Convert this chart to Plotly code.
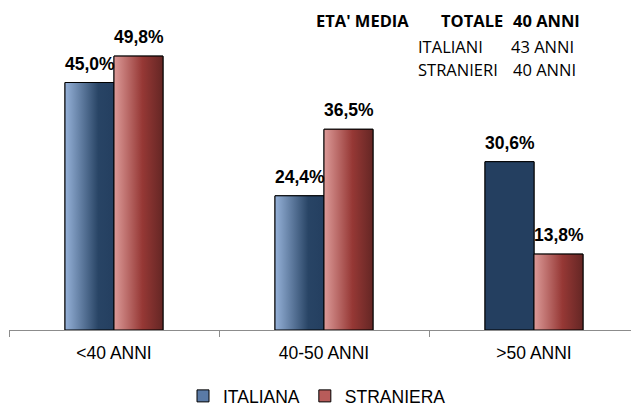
import plotly.graph_objects as go

# ---- data ----
categories = ["<40 ANNI", "40-50 ANNI", ">50 ANNI"]
italiana = [45.0, 24.4, 30.6]
straniera = [49.8, 36.5, 13.8]
series_names = ["ITALIANA", "STRANIERA"]
eta_media_totale = 40
eta_media_italiani = 43
eta_media_stranieri = 40

# ---- styles ----
BLUE_SCALE = [[0, "#95b1d8"], [0.68, "#284465"], [1, "#243f60"]]
BLUE_SOLID = [[0, "#243f60"], [1, "#243f60"]]
RED_SCALE = [[0, "#dc9a98"], [0.58, "#963835"], [1, "#642624"]]
blue_solid_flags = [False, False, True]
LABEL_FONT = "Liberation Sans, Arial, sans-serif"

BAR_W = 0.2333          # fraction of category width per bar
PLOT_L, PLOT_R, PLOT_T, PLOT_B = 9, 631, 0, 330
CAT_PX = 210.0
x_max = -0.5 + (PLOT_R - PLOT_L) / CAT_PX

fig = go.Figure()
xs = list(range(len(categories)))

# base bars (legend + outline)
fig.add_trace(go.Bar(x=xs, y=italiana, name=series_names[0],
                     marker=dict(color="#5a7aa6", line=dict(color="black", width=1)),
                     width=BAR_W, offset=-BAR_W, showlegend=True, hoverinfo="skip"))
fig.add_trace(go.Bar(x=xs, y=straniera, name=series_names[1],
                     marker=dict(color="#b85c5a", line=dict(color="black", width=1)),
                     width=BAR_W, offset=0, showlegend=True, hoverinfo="skip"))


# gradient overlays computed from the data
def add_grad(xc, off, v, scale):
    x0 = xc + off
    x1 = x0 + BAR_W
    fig.add_trace(go.Scatter(
        x=[x0, x1, x1, x0, x0], y=[0, 0, v, v, 0],
        mode="lines", fill="toself",
        fillgradient=dict(type="horizontal", colorscale=scale),
        line=dict(color="black", width=1),
        showlegend=False, hoverinfo="skip"))


for i, v in enumerate(italiana):
    add_grad(xs[i], -BAR_W, v, BLUE_SOLID if blue_solid_flags[i] else BLUE_SCALE)
for i, v in enumerate(straniera):
    add_grad(xs[i], 0, v, RED_SCALE)


def fmt(v):
    return f"{v:.1f}".replace(".", ",") + "%"


annos = []
for vals, dx in ((italiana, -BAR_W / 2), (straniera, BAR_W / 2)):
    for i, v in enumerate(vals):
        annos.append(dict(x=xs[i] + dx, y=v, text=fmt(v), showarrow=False,
                          xref="x", yref="y", yanchor="bottom", yshift=7,
                          font=dict(family=LABEL_FONT, size=17.5, color="black", weight="bold")))


# top-right info text
def px2paper(px, py):
    return (px - PLOT_L) / (PLOT_R - PLOT_L), (PLOT_B - py) / (PLOT_B - PLOT_T)


info = [
    ("ETA' MEDIA", 410, 21, True, "right"),
    ("TOTALE", 440, 21, True, "left"),
    (f"{eta_media_totale} ANNI", 512, 21, True, "left"),
    ("ITALIANI", 417, 46, False, "left"),
    (f"{eta_media_italiani} ANNI", 510, 46, False, "left"),
    ("STRANIERI", 417, 69, False, "left"),
    (f"{eta_media_stranieri} ANNI", 512, 69, False, "left"),
]
for txt, px, py, bold, anchor in info:
    ax, ay = px2paper(px, py)
    annos.append(dict(x=ax, y=ay, xref="paper", yref="paper", text=txt, showarrow=False,
                      xanchor=anchor, yanchor="middle", align=anchor, borderpad=0,
                      font=dict(family="Open Sans", size=16.5, color="black",
                                weight="bold" if bold else "normal")))

fig.update_layout(
    width=631, height=407,
    margin=dict(l=PLOT_L, r=631 - PLOT_R, t=PLOT_T, b=407 - PLOT_B, autoexpand=False),
    paper_bgcolor="white", plot_bgcolor="white",
    barmode="overlay",
    showlegend=True,
    legend=dict(orientation="h", x=(317 - PLOT_L) / (PLOT_R - PLOT_L), xanchor="center",
                y=(PLOT_B - 396) / (PLOT_B - PLOT_T), yanchor="middle",
                font=dict(family=LABEL_FONT, size=17.5, color="black"),
                itemwidth=30, traceorder="normal", bgcolor="rgba(0,0,0,0)"),
    annotations=annos,
    xaxis=dict(range=[-0.5, x_max], tickmode="array", tickvals=[-0.5, 0.5, 1.5, 2.5],
               ticktext=["", "", "", ""], ticks="outside", ticklen=6, tickcolor="#8c8c8c",
               showline=True, linecolor="#8c8c8c", linewidth=1, showgrid=False,
               zeroline=False, fixedrange=True),
    xaxis2=dict(range=[-0.5, x_max], overlaying="x", matches="x", side="bottom",
                tickmode="array", tickvals=xs, ticktext=categories, ticks="",
                showline=False, showgrid=False, zeroline=False, ticklabelstandoff=10,
                tickfont=dict(family=LABEL_FONT, size=17.5, color="black")),
    yaxis=dict(range=[0, 60], visible=False, showgrid=False, zeroline=False),
)

# invisible trace so that xaxis2 (category labels) renders
fig.add_trace(go.Scatter(x=[xs[0]], y=[0], xaxis="x2", mode="markers",
                         marker=dict(opacity=0), showlegend=False, hoverinfo="skip"))

fig.write_html("out.html", config={"displayModeBar": False},
               post_script="document.body.style.margin='0';document.body.style.overflow='hidden';")
